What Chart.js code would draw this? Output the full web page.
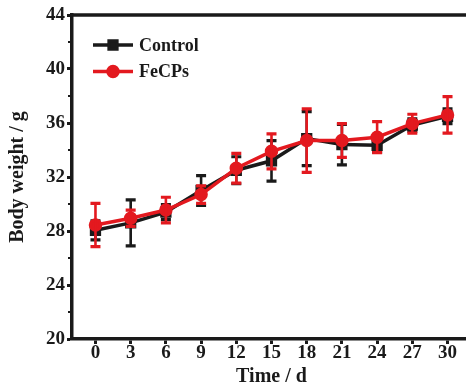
<!DOCTYPE html>
<html>
<head>
<meta charset="utf-8">
<script src="https://cdn.jsdelivr.net/npm/chart.js@4/dist/chart.umd.min.js"></script>
<style>
  html, body { margin: 0; padding: 0; background: #fff; overflow: hidden; }
  #wrap { width: 466px; height: 392px; overflow: hidden; }
  canvas { display: block; }
</style>
</head>
<body>
<div id="wrap"><canvas id="chart" width="480" height="392"></canvas></div>
<script>
// Body weight over the treatment period (mean ± SD)
const days = [0, 3, 6, 9, 12, 15, 18, 21, 24, 27, 30];
const controlMean = [28.05, 28.6, 29.4, 31.0, 32.5, 33.2, 34.85, 34.4, 34.35, 35.85, 36.5];
const controlSD   = [0.7, 1.7, 0.55, 1.1, 1.0, 1.5, 2.0, 1.5, 0.5, 0.45, 0.55];
const fecpsMean   = [28.45, 28.95, 29.55, 30.7, 32.65, 33.9, 34.7, 34.7, 34.95, 35.95, 36.6];
const fecpsSD     = [1.6, 0.6, 0.95, 0.65, 1.1, 1.3, 2.35, 1.25, 1.15, 0.7, 1.35];
const yTicks = [20, 24, 28, 32, 36, 40, 44];
const yMinorTicks = [22, 26, 30, 34, 38, 42];
const seriesNames = ['Control', 'FeCPs'];
const xTitle = 'Time / d';
const yTitle = 'Body weight / g';

const BLACK = '#1a1a1a';
const RED = '#e3191f';
const FONT = '"Liberation Serif", "Times New Roman", serif';

const toPoints = (means) => days.map((d, i) => ({ x: d, y: means[i] }));

// Vertical error bars with caps, drawn right after each dataset
const errorBars = {
  id: 'errorBars',
  afterDatasetDraw(chart, args) {
    const ds = chart.data.datasets[args.index];
    if (!ds.errors) return;
    const { ctx, scales: { x, y } } = chart;
    ctx.save();
    ctx.strokeStyle = ds.borderColor;
    ctx.lineCap = 'butt';
    ds.data.forEach((p, i) => {
      const px = x.getPixelForValue(p.x);
      const top = y.getPixelForValue(p.y + ds.errors[i]);
      const bot = y.getPixelForValue(p.y - ds.errors[i]);
      ctx.lineWidth = 2.6;
      ctx.beginPath();
      ctx.moveTo(px, top); ctx.lineTo(px, bot);
      ctx.stroke();
      ctx.lineWidth = 3.2;
      ctx.beginPath();
      ctx.moveTo(px - 5, top); ctx.lineTo(px + 5, top);
      ctx.moveTo(px - 5, bot); ctx.lineTo(px + 5, bot);
      ctx.stroke();
    });
    ctx.restore();
  }
};

// Top frame line, minor y ticks and the legend
const frame = {
  id: 'frame',
  afterDraw(chart) {
    const { ctx, chartArea: a, scales: { y } } = chart;
    ctx.save();
    ctx.strokeStyle = BLACK;
    ctx.lineWidth = 3.5;
    ctx.beginPath();
    ctx.moveTo(a.left - 1.75, a.top);
    ctx.lineTo(a.right, a.top);
    ctx.stroke();

    ctx.lineWidth = 2;
    yMinorTicks.forEach(v => {
      const py = y.getPixelForValue(v);
      ctx.beginPath();
      ctx.moveTo(a.left - 4, py);
      ctx.lineTo(a.left, py);
      ctx.stroke();
    });

    // legend
    chart.data.datasets.forEach((ds, i) => {
      const ly = 45 + i * 26.5;
      ctx.strokeStyle = ds.borderColor;
      ctx.fillStyle = ds.borderColor;
      ctx.lineWidth = 3.5;
      ctx.beginPath();
      ctx.moveTo(93, ly); ctx.lineTo(133, ly);
      ctx.stroke();
      Chart.helpers.drawPoint(ctx, { pointStyle: ds.pointStyle, radius: ds.pointRadius, borderWidth: 1 }, 113, ly);
      ctx.fillStyle = BLACK;
      ctx.font = 'bold 18px ' + FONT;
      ctx.textBaseline = 'middle';
      ctx.textAlign = 'left';
      ctx.fillText(seriesNames[i], 139, ly + 1);
    });
    ctx.restore();
  }
};

const tickFont = { family: FONT, weight: 'bold', size: 19 };
const titleFont = { family: FONT, weight: 'bold', size: 20, lineHeight: 1 };

new Chart(document.getElementById('chart'), {
  type: 'line',
  data: {
    datasets: [
      {
        label: seriesNames[0], data: toPoints(controlMean), errors: controlSD,
        borderColor: BLACK, backgroundColor: BLACK, pointBackgroundColor: BLACK, pointBorderColor: BLACK,
        pointStyle: 'rect', pointRadius: 5.5, borderWidth: 3.5, tension: 0, order: 2
      },
      {
        label: seriesNames[1], data: toPoints(fecpsMean), errors: fecpsSD,
        borderColor: RED, backgroundColor: RED, pointBackgroundColor: RED, pointBorderColor: RED,
        pointStyle: 'circle', pointRadius: 5, borderWidth: 3.5, tension: 0, order: 1
      }
    ]
  },
  options: {
    responsive: false,
    animation: false,
    devicePixelRatio: 1,
    layout: { padding: { top: 15, right: 6, left: 0, bottom: 0 } },
    plugins: { legend: { display: false }, tooltip: { enabled: false } },
    scales: {
      x: {
        type: 'linear', min: -2, max: 32,
        afterBuildTicks: s => { s.ticks = days.map(v => ({ value: v })); },
        afterFit: s => { s.height = 53; },
        grid: { drawOnChartArea: false, drawTicks: true, tickLength: 5, tickWidth: 3, tickColor: BLACK },
        border: { display: true, width: 3.5, color: BLACK },
        ticks: { color: BLACK, font: tickFont, padding: -2, maxRotation: 0, autoSkip: false },
        title: { display: true, text: xTitle, color: BLACK, font: titleFont, padding: { top: 0, bottom: 5 } }
      },
      y: {
        min: 20, max: 44,
        afterBuildTicks: s => { s.ticks = yTicks.map(v => ({ value: v })); },
        afterFit: s => { s.width = 72; },
        grid: { drawOnChartArea: false, drawTicks: true, tickLength: 5, tickWidth: 3, tickColor: BLACK },
        border: { display: true, width: 3.5, color: BLACK },
        ticks: { color: BLACK, font: tickFont, padding: 2 },
        title: { display: true, text: yTitle, color: BLACK, font: titleFont, padding: { top: 8, bottom: 0 } }
      }
    }
  },
  plugins: [errorBars, frame]
});
</script>
</body>
</html>
